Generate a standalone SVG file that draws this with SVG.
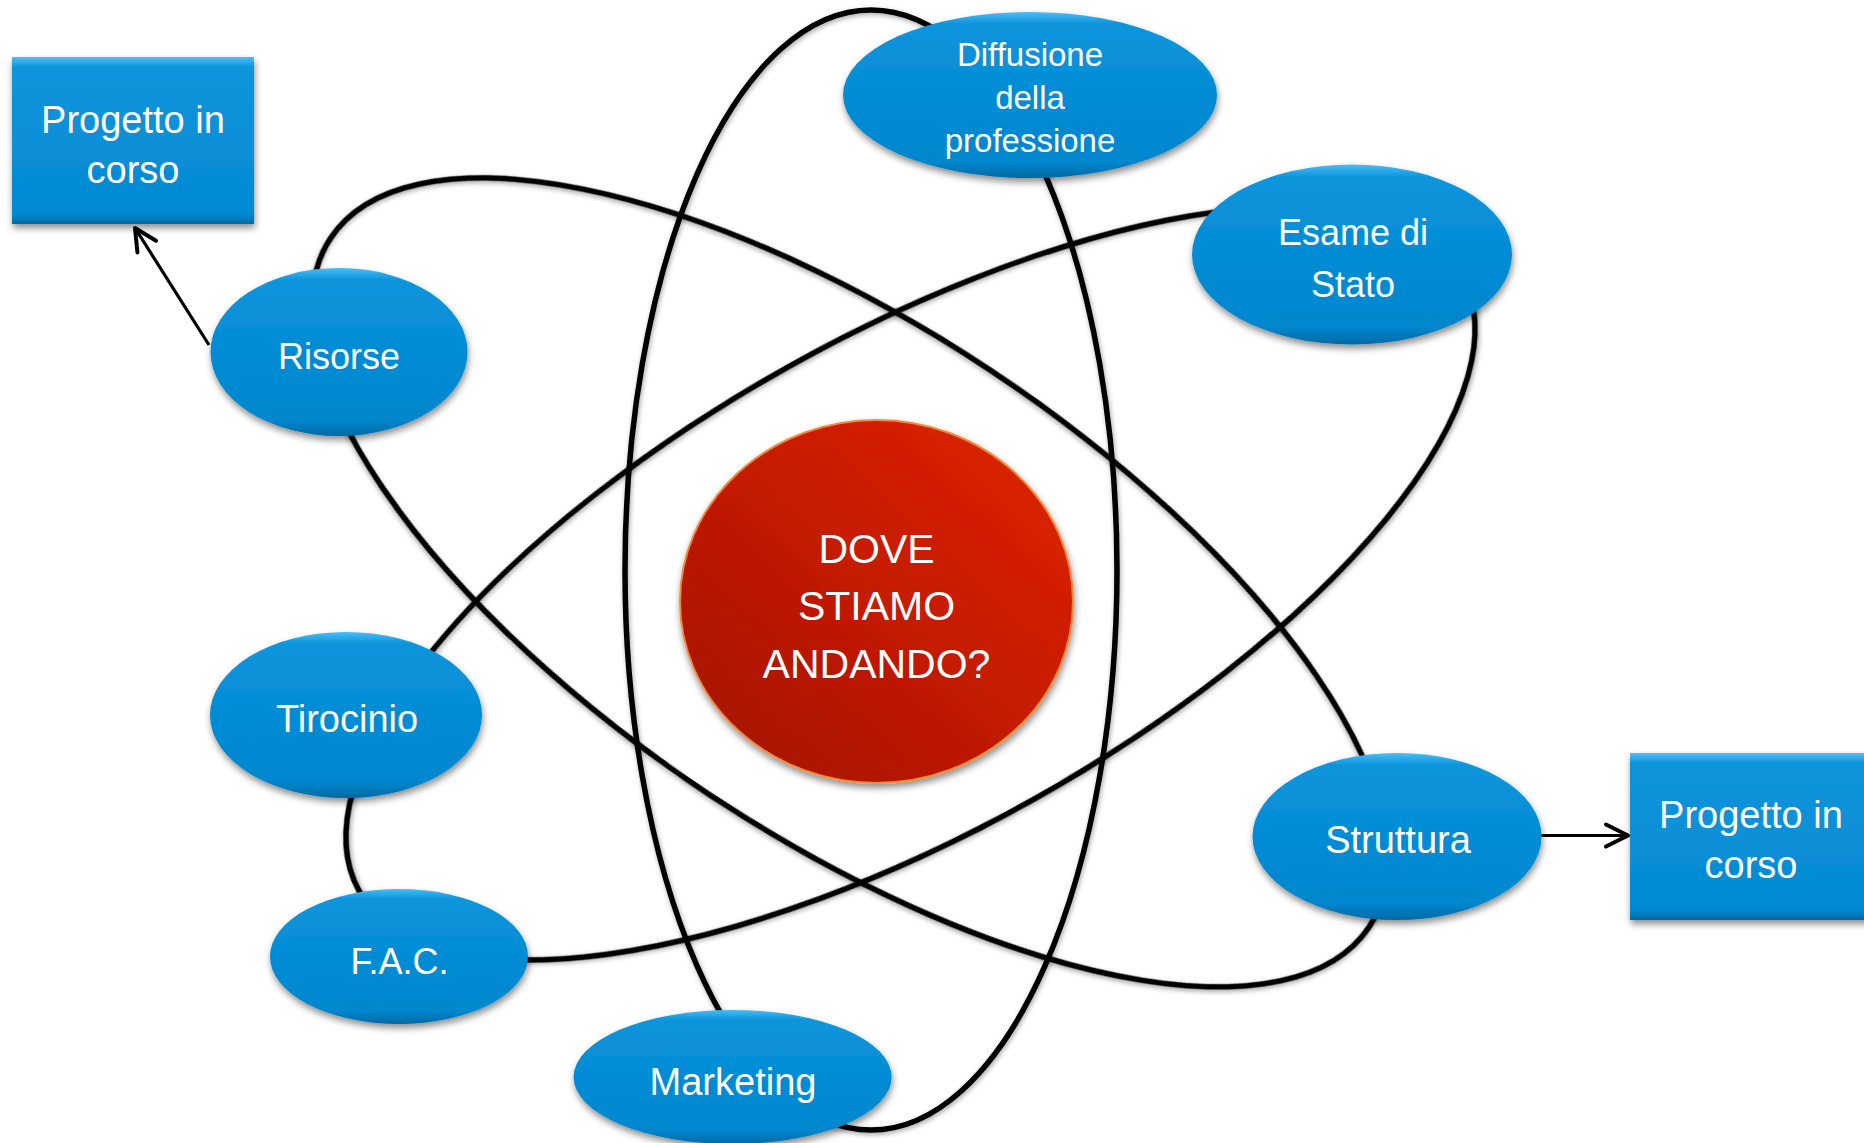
<svg xmlns="http://www.w3.org/2000/svg" width="1864" height="1143" viewBox="0 0 1864 1143">
<defs>
<style>
.orbit{fill:none;stroke:#000;stroke-width:5.5;filter:url(#lsh)}
.link{fill:none;stroke:#000;stroke-width:3.2;marker-end:url(#arr)}
.blue{fill:url(#gb);filter:url(#sh)}
.box{fill:url(#gbox);filter:url(#sh)}
.t{font-family:"Liberation Sans",Arial,sans-serif;fill:#fff;text-anchor:middle}
</style>
<linearGradient id="gb" x1="0" y1="0" x2="0" y2="1">
<stop offset="0" stop-color="#48bdf5"/>
<stop offset="0.07" stop-color="#0d95dc"/>
<stop offset="0.5" stop-color="#038cd5"/>
<stop offset="0.9" stop-color="#0387ce"/>
<stop offset="1" stop-color="#026aa6"/>
</linearGradient>
<linearGradient id="gbox" x1="0" y1="0" x2="0" y2="1">
<stop offset="0" stop-color="#4dbff5"/>
<stop offset="0.06" stop-color="#0e95dc"/>
<stop offset="0.94" stop-color="#038ad2"/>
<stop offset="1" stop-color="#026aa3"/>
</linearGradient>
<linearGradient id="gr" x1="0" y1="1" x2="1" y2="0">
<stop offset="0" stop-color="#9f1300"/>
<stop offset="0.5" stop-color="#c41a00"/>
<stop offset="1" stop-color="#e02400"/>
</linearGradient>
<filter id="sh" x="-20%" y="-20%" width="140%" height="150%">
<feDropShadow dx="1" dy="4" stdDeviation="3.5" flood-color="#000" flood-opacity="0.45"/>
</filter>
<filter id="lsh" x="-10%" y="-10%" width="120%" height="120%">
<feDropShadow dx="1" dy="2" stdDeviation="2.5" flood-color="#000" flood-opacity="0.35"/>
</filter>
<marker id="arr" markerUnits="userSpaceOnUse" markerWidth="30" markerHeight="30" viewBox="0 0 30 30" refX="26" refY="15" orient="auto">
<path d="M4,4 L26,15 L4,26" fill="none" stroke="#000" stroke-width="4" stroke-linecap="round" stroke-linejoin="round"/>
</marker>
</defs>
<rect width="1864" height="1143" fill="#fff"/>
<g id="connectors">
<ellipse class="orbit" cx="871" cy="570" rx="246" ry="560"/>
<ellipse class="orbit" cx="850" cy="582.4" rx="623.1" ry="254.5" transform="rotate(33.55 850 582.4)"/>
<ellipse class="orbit" cx="910.5" cy="583.3" rx="631.4" ry="248.6" transform="rotate(-29.17 910.5 583.3)"/>
<line class="link" x1="209" y1="345" x2="135" y2="228"/>
<line class="link" x1="1540" y1="835.5" x2="1628" y2="835.5"/>
</g>
<g id="node-center">
<ellipse cx="876.5" cy="601.5" rx="196.5" ry="181.5" fill="url(#gr)" stroke="#f28a3a" stroke-width="2" filter="url(#sh)"/>
<text class="t" font-size="41" x="876.5" y="563">DOVE</text>
<text class="t" font-size="41" x="876.5" y="620">STIAMO</text>
<text class="t" font-size="41" x="876.5" y="678">ANDANDO?</text>
</g>
<g id="node-box-left">
<rect class="box" x="12" y="57" width="242" height="167"/>
<text class="t" font-size="38" x="133" y="133">Progetto in</text>
<text class="t" font-size="38" x="133" y="183">corso</text>
</g>
<g id="node-box-right">
<rect class="box" x="1630" y="753" width="243" height="167"/>
<text class="t" font-size="38" x="1751" y="828">Progetto in</text>
<text class="t" font-size="38" x="1751" y="878">corso</text>
</g>
<g id="node-risorse">
<ellipse class="blue" cx="339" cy="352" rx="128.5" ry="84"/>
<text class="t" font-size="36" x="339" y="369">Risorse</text>
</g>
<g id="node-diffusione">
<ellipse class="blue" cx="1030" cy="95" rx="187" ry="83"/>
<text class="t" font-size="33" x="1030" y="66">Diffusione</text>
<text class="t" font-size="33" x="1030" y="109">della</text>
<text class="t" font-size="33" x="1030" y="152">professione</text>
</g>
<g id="node-esame">
<ellipse class="blue" cx="1352" cy="254.5" rx="160" ry="90"/>
<text class="t" font-size="36" x="1353" y="245">Esame di</text>
<text class="t" font-size="36" x="1353" y="297">Stato</text>
</g>
<g id="node-tirocinio">
<ellipse class="blue" cx="346" cy="715" rx="136" ry="83"/>
<text class="t" font-size="38" x="347" y="732">Tirocinio</text>
</g>
<g id="node-fac">
<ellipse class="blue" cx="399" cy="956.5" rx="129" ry="67.5"/>
<text class="t" font-size="36" x="399.5" y="974">F.A.C.</text>
</g>
<g id="node-marketing">
<ellipse class="blue" cx="732.6" cy="1077" rx="159" ry="67"/>
<text class="t" font-size="38" x="733" y="1095">Marketing</text>
</g>
<g id="node-struttura">
<ellipse class="blue" cx="1397" cy="836.5" rx="144.5" ry="83.5"/>
<text class="t" font-size="38" x="1398" y="853">Struttura</text>
</g>
</svg>
